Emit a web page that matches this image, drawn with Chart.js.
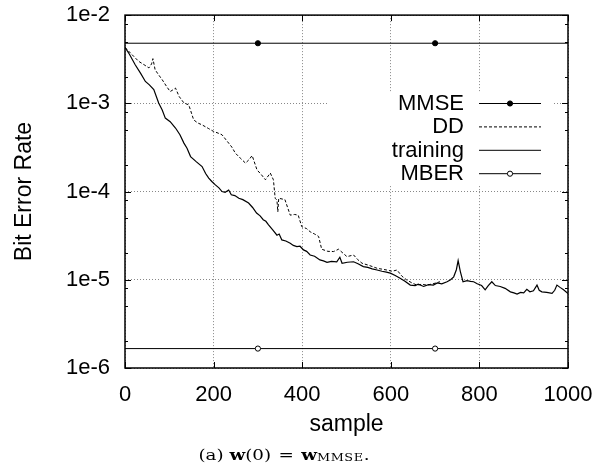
<!DOCTYPE html>
<html lang="en">
  <head>
    <meta charset="utf-8" />
    <title>Bit error rate vs sample</title>
    <style>
      * {
        margin: 0;
        padding: 0;
      }
      body {
        background: white;
        width: 610px;
        height: 474px;
        position: relative;
        overflow: hidden;
      }
      #myChart {
        position: absolute;
        left: 0;
        top: 0;
      }
      .caption {
        position: absolute;
        left: 284px;
        top: 446px;
        white-space: nowrap;
        font-family: "DejaVu Serif", "Liberation Serif", serif;
        font-size: 15px;
        color: black;
        transform: translateX(-50%) scaleX(1.22);
      }
      .caption .eq {
        margin: 0 6px;
      }
      .caption sub {
        font-size: 10.5px;
        vertical-align: -1px;
        letter-spacing: 0.5px;
      }
    </style>
  </head>
  <body>
    <canvas id="myChart" width="610" height="474"></canvas>
    <div class="caption">(a) <b>w</b>(0)<span class="eq">=</span><b>w</b><sub>MMSE</sub>.</div>

    <script src="https://cdn.jsdelivr.net/npm/chart.js"></script>
    <script>
      // ---- data ----
      const xTickValues = [0, 200, 400, 600, 800, 1000];
      const yTickValues = [1e-6, 1e-5, 1e-4, 1e-3, 1e-2];
      const yTickLabels = ["1e-6", "1e-5", "1e-4", "1e-3", "1e-2"];
      const minorMantissas = [2, 5, 8];

      const seriesNames = ["MMSE", "DD", "training", "MBER"];

      const refSamples = [0, 300, 700, 1000];
      const markerSamples = [300, 700];
      const mmseBer = 4.8e-3;
      const mberBer = 1.66e-6;

      const trainSamples = [
        0, 10, 23, 35, 46, 55, 65, 76, 84, 91, 102, 114, 124, 133, 140, 148,
        160, 174, 182, 189, 196, 204, 212, 219, 226, 234, 240, 248, 257, 266,
        279, 288, 297, 305, 312, 318, 324, 333, 343, 348, 354, 363, 373, 380,
        388, 395, 403, 410, 418, 428, 440, 448, 456, 466, 478, 485, 490, 502,
        516, 526, 538, 548, 558, 569, 580, 590, 599, 610, 621, 632, 644, 655,
        662, 674, 685, 696, 705, 715, 727, 735, 742, 748, 752, 757, 763, 772,
        780, 787, 795, 805, 813, 820, 828, 836, 847, 858, 870, 878, 885, 893,
        900, 907, 914, 922, 930, 935, 941, 952, 964, 970, 975, 982, 990, 1000,
      ];
      const trainBer = [
        4.3e-3, 3.6e-3, 2.74e-3, 2.2e-3, 1.77e-3, 1.62e-3, 1.43e-3, 1.01e-3,
        8.4e-4, 6.8e-4, 6.2e-4, 5.25e-4, 4.4e-4, 3.54e-4, 3.1e-4, 2.49e-4,
        2.2e-4, 1.92e-4, 1.6e-4, 1.42e-4, 1.3e-4, 1.19e-4, 1.1e-4, 1.0e-4,
        9.8e-5, 1.04e-4, 9.2e-5, 9.0e-5, 8.4e-5, 8.1e-5, 7.4e-5, 6.6e-5,
        5.7e-5, 5.3e-5, 4.8e-5, 4.6e-5, 4.2e-5, 3.7e-5, 3.2e-5, 3.3e-5,
        2.83e-5, 2.75e-5, 2.6e-5, 2.45e-5, 2.38e-5, 2.4e-5, 2.18e-5, 2.1e-5,
        1.91e-5, 1.85e-5, 1.68e-5, 1.64e-5, 1.58e-5, 1.62e-5, 1.6e-5, 1.8e-5,
        1.54e-5, 1.58e-5, 1.6e-5, 1.52e-5, 1.41e-5, 1.38e-5, 1.33e-5, 1.29e-5,
        1.25e-5, 1.22e-5, 1.19e-5, 1.12e-5, 1.04e-5, 9.6e-6, 8.7e-6, 8.6e-6,
        8.9e-6, 8.4e-6, 8.8e-6, 8.7e-6, 9.2e-6, 9.0e-6, 9.5e-6, 1.0e-5,
        1.08e-5, 1.3e-5, 1.65e-5, 1.24e-5, 9.5e-6, 9.8e-6, 9.6e-6, 9.5e-6,
        9.0e-6, 8.6e-6, 7.7e-6, 8.6e-6, 9.5e-6, 8.6e-6, 8.4e-6, 8.0e-6,
        7.3e-6, 7.1e-6, 6.9e-6, 7.2e-6, 7.1e-6, 7.8e-6, 7.3e-6, 7.5e-6,
        8.7e-6, 7.6e-6, 7.3e-6, 7.2e-6, 7.0e-6, 7.6e-6, 8.7e-6, 8.2e-6,
        7.7e-6, 7.0e-6,
      ];

      const ddSamples = [
        0, 15, 31, 45, 54, 60, 63, 68, 76, 84, 94, 102, 108, 114, 122, 133,
        144, 155, 164, 174, 188, 200, 210, 219, 234, 241, 249, 260, 272, 280,
        287, 298, 308, 317, 328, 335, 339, 343, 345, 347, 361, 373, 383, 391,
        399, 410, 418, 428, 437, 444, 458, 471, 482, 501, 516, 525, 535, 552,
        569, 580, 591, 603, 614, 625, 636, 648, 659, 670, 681, 695, 711,
      ];
      const ddBer = [
        4.3e-3, 3.6e-3, 2.99e-3, 2.7e-3, 2.52e-3, 2.8e-3, 3.21e-3, 2.4e-3,
        2.1e-3, 1.85e-3, 1.55e-3, 1.36e-3, 1.42e-3, 1.49e-3, 1.2e-3, 1.01e-3,
        9.6e-4, 6.5e-4, 6.0e-4, 5.7e-4, 5.2e-4, 4.8e-4, 4.6e-4, 4.4e-4,
        3.54e-4, 3.2e-4, 2.73e-4, 2.4e-4, 2.1e-4, 2.3e-4, 2.56e-4, 1.76e-4,
        1.55e-4, 1.36e-4, 1.62e-4, 1.36e-4, 8.4e-5, 8.0e-5, 5.9e-5, 8.4e-5,
        8.1e-5, 5.4e-5, 5.5e-5, 5.4e-5, 4.0e-5, 3.8e-5, 3.5e-5, 3.3e-5,
        3.1e-5, 2.22e-5, 2.1e-5, 2.09e-5, 2.22e-5, 1.83e-5, 1.91e-5, 1.7e-5,
        1.54e-5, 1.45e-5, 1.35e-5, 1.32e-5, 1.29e-5, 1.25e-5, 1.29e-5, 1.1e-5,
        9.95e-6, 9.2e-6, 8.7e-6, 8.9e-6, 8.7e-6, 9.0e-6, 9.5e-6,
      ];

      const toPoints = (xs, ys) => xs.map((x, i) => ({ x: x, y: ys[i] }));
      const flat = (xs, v) => xs.map((x) => ({ x: x, y: v }));
      const markerRadius = (ctx) =>
        markerSamples.includes(ctx.raw && ctx.raw.x) ? 2.6 : 0;

      const FONT = "'Liberation Sans', Arial, Helvetica, sans-serif";
      Chart.defaults.font.family = FONT;
      Chart.defaults.color = "#000";

      // gnuplot-like frame: white key box, border, inward tics, key
      const gnuplotFrame = {
        id: "gnuplotFrame",
        beforeDatasetsDraw(chart, args, opts) {
          const { ctx } = chart;
          const b = opts.keyBox;
          ctx.save();
          ctx.fillStyle = "#fff";
          ctx.fillRect(b.left, b.top, b.right - b.left, b.bottom - b.top);
          ctx.restore();
        },
        afterDatasetsDraw(chart, args, opts) {
          const {
            ctx,
            chartArea: { left, right, top, bottom },
            scales: { x, y },
          } = chart;
          ctx.save();
          ctx.strokeStyle = "#000";
          ctx.lineWidth = 1;
          ctx.beginPath();
          yTickValues.forEach((v) => {
            const py = Math.round(y.getPixelForValue(v)) + 0.5;
            ctx.moveTo(left, py);
            ctx.lineTo(left + 6, py);
            ctx.moveTo(right, py);
            ctx.lineTo(right - 6, py);
          });
          yTickValues.slice(0, -1).forEach((v) => {
            minorMantissas.forEach((m) => {
              const py = Math.round(y.getPixelForValue(v * m)) + 0.5;
              ctx.moveTo(left, py);
              ctx.lineTo(left + 3, py);
              ctx.moveTo(right, py);
              ctx.lineTo(right - 3, py);
            });
          });
          xTickValues.forEach((v) => {
            const px = Math.round(x.getPixelForValue(v)) + 0.5;
            ctx.moveTo(px, bottom);
            ctx.lineTo(px, bottom - 6);
            ctx.moveTo(px, top);
            ctx.lineTo(px, top + 6);
          });
          ctx.stroke();

          ctx.lineWidth = 1.5;
          ctx.strokeRect(left, top, right - left, bottom - top);

          // key
          const k = opts.key;
          ctx.font = k.fontSize + "px " + FONT;
          ctx.fillStyle = "#000";
          ctx.textAlign = "right";
          ctx.textBaseline = "middle";
          chart.data.datasets.forEach((ds, i) => {
            const ky = k.top + i * k.rowHeight;
            ctx.fillText(ds.label, k.textRight, ky + 1);
            ctx.beginPath();
            ctx.lineWidth = 1;
            ctx.setLineDash(ds.borderDash || []);
            ctx.moveTo(k.lineLeft, ky + 0.5);
            ctx.lineTo(k.lineRight, ky + 0.5);
            ctx.stroke();
            ctx.setLineDash([]);
            if (ds.keyMarker) {
              const mx = (k.lineLeft + k.lineRight) / 2;
              ctx.beginPath();
              ctx.arc(mx, ky + 0.5, 2.6, 0, Math.PI * 2);
              ctx.fillStyle = ds.keyMarker === "filled" ? "#000" : "#fff";
              ctx.fill();
              ctx.stroke();
              ctx.fillStyle = "#000";
            }
          });
          ctx.restore();
        },
      };

      const data = {
        datasets: [
          {
            label: seriesNames[0],
            data: flat(refSamples, mmseBer),
            borderColor: "#000",
            borderWidth: 1,
            pointRadius: markerRadius,
            pointBackgroundColor: "#000",
            pointBorderColor: "#000",
            keyMarker: "filled",
          },
          {
            label: seriesNames[1],
            data: toPoints(ddSamples, ddBer),
            borderColor: "#000",
            borderWidth: 1,
            borderDash: [3, 2],
            pointRadius: 0,
          },
          {
            label: seriesNames[2],
            data: toPoints(trainSamples, trainBer),
            borderColor: "#000",
            borderWidth: 1.2,
            pointRadius: 0,
          },
          {
            label: seriesNames[3],
            data: flat(refSamples, mberBer),
            borderColor: "#000",
            borderWidth: 1,
            pointRadius: markerRadius,
            pointBackgroundColor: "#fff",
            pointBorderColor: "#000",
            pointBorderWidth: 1,
            keyMarker: "open",
          },
        ],
      };

      const config = {
        type: "line",
        data: data,
        options: {
          responsive: false,
          animation: false,
          devicePixelRatio: 1,
          layout: { padding: { top: 15, right: 42, left: 0, bottom: 0 } },
          elements: { line: { tension: 0 } },
          plugins: {
            legend: { display: false },
            tooltip: { enabled: false },
            gnuplotFrame: {
              keyBox: { left: 327, right: 553, top: 92, bottom: 186 },
              key: {
                fontSize: 22,
                top: 103,
                rowHeight: 23.4,
                textRight: 464,
                lineLeft: 479,
                lineRight: 541,
              },
            },
          },
          scales: {
            x: {
              type: "linear",
              min: 0,
              max: 1000,
              afterFit: (scale) => {
                scale.height = 106;
              },
              afterBuildTicks: (scale) => {
                scale.ticks = xTickValues.map((v) => ({ value: v }));
              },
              ticks: {
                font: { size: 22 },
                padding: 14,
                maxRotation: 0,
                color: "#000",
                callback: (value) => String(value),
              },
              grid: {
                color: "#888",
                lineWidth: 1,
                drawTicks: false,
              },
              border: { display: false, dash: [1, 2] },
              title: {
                display: true,
                text: "sample",
                font: { size: 23 },
                padding: 36,
                color: "#000",
              },
            },
            y: {
              type: "logarithmic",
              min: 1e-6,
              max: 1e-2,
              afterFit: (scale) => {
                scale.width = 125;
              },
              afterBuildTicks: (scale) => {
                scale.ticks = yTickValues.map((v) => ({ value: v }));
              },
              ticks: {
                // tiny lineHeight so the labels add no extra padding to the plot
                font: { size: 22, lineHeight: 0.01 },
                padding: 15,
                color: "#000",
                callback: (value) => yTickLabels[yTickValues.indexOf(value)],
              },
              grid: {
                color: "#888",
                lineWidth: 1,
                drawTicks: false,
              },
              border: { display: false, dash: [1, 2] },
              title: {
                display: true,
                text: "Bit Error Rate",
                font: { size: 23 },
                padding: 11,
                color: "#000",
              },
            },
          },
        },
        plugins: [gnuplotFrame],
      };

      const myChart = new Chart(document.getElementById("myChart"), config);
    </script>
  </body>
</html>
